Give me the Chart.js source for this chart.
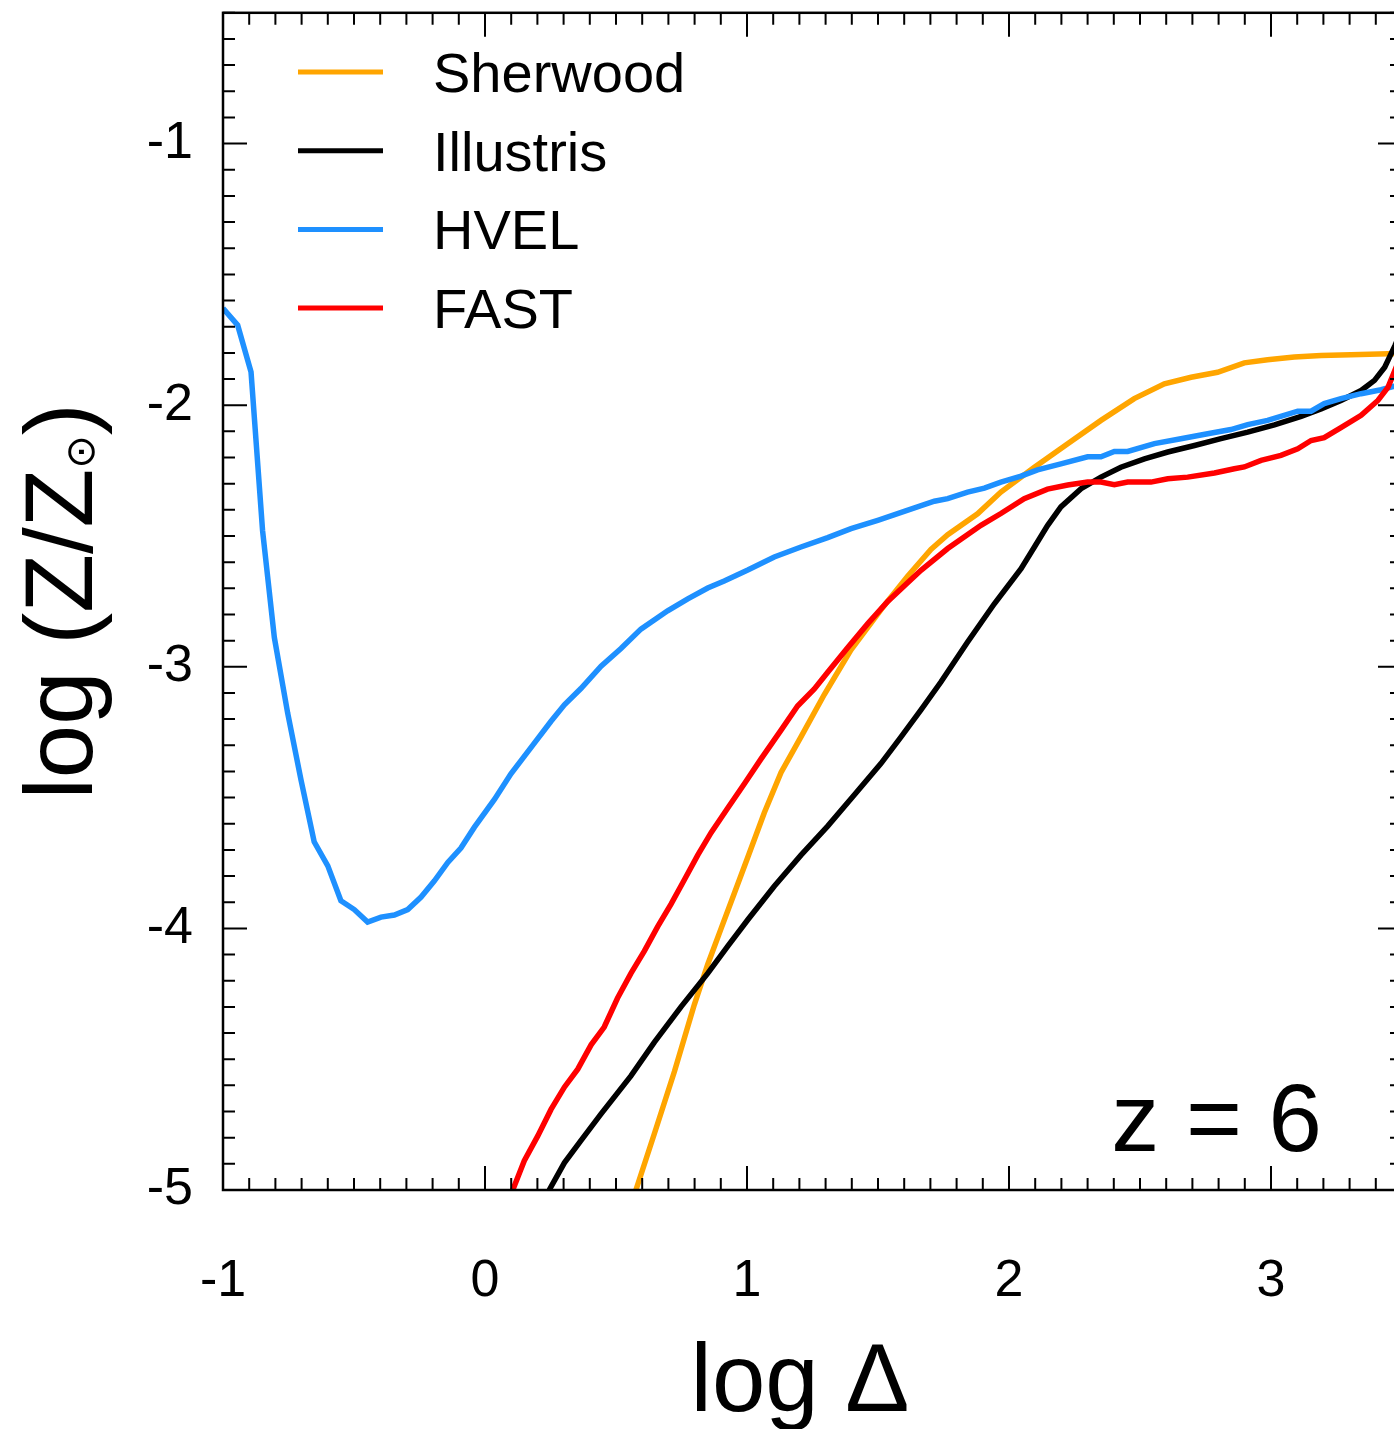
<!DOCTYPE html>
<html>
<head>
<meta charset="utf-8">
<script src="https://cdn.jsdelivr.net/npm/chart.js@4.4.1/dist/chart.umd.min.js"></script>
<style>
  html, body { margin: 0; padding: 0; background: #fff; overflow: hidden; }
  canvas { display: block; }
</style>
</head>
<body>
<canvas id="zChart" width="1420" height="1429"></canvas>
<script>
// log Delta vs log(Z/Zsun), z = 6
const sherwoodX = [0.576, 0.646, 0.723, 0.799, 0.850, 0.901, 0.952, 1.003, 1.066, 1.130, 1.206, 1.295, 1.397, 1.511, 1.613, 1.702, 1.766, 1.880, 1.969, 2.097, 2.224, 2.351, 2.478, 2.593, 2.695, 2.796, 2.898, 2.987, 3.089, 3.191, 3.305, 3.447, 3.5];
const sherwoodY = [-5.0, -4.786, -4.547, -4.291, -4.138, -4.001, -3.865, -3.728, -3.558, -3.404, -3.268, -3.106, -2.935, -2.782, -2.654, -2.551, -2.495, -2.415, -2.332, -2.237, -2.147, -2.058, -1.975, -1.918, -1.893, -1.874, -1.838, -1.826, -1.816, -1.810, -1.807, -1.803, -1.802];

const illustrisX = [0.245, 0.303, 0.366, 0.443, 0.557, 0.646, 0.748, 0.850, 0.926, 1.003, 1.104, 1.206, 1.308, 1.410, 1.511, 1.588, 1.664, 1.740, 1.842, 1.944, 2.046, 2.097, 2.147, 2.198, 2.275, 2.351, 2.427, 2.517, 2.606, 2.708, 2.809, 2.911, 3.013, 3.115, 3.191, 3.267, 3.344, 3.395, 3.434, 3.473, 3.5];
const illustrisY = [-5.0, -4.896, -4.811, -4.709, -4.564, -4.436, -4.300, -4.172, -4.069, -3.967, -3.839, -3.720, -3.609, -3.489, -3.370, -3.268, -3.165, -3.058, -2.905, -2.759, -2.625, -2.542, -2.460, -2.389, -2.319, -2.275, -2.237, -2.205, -2.179, -2.154, -2.128, -2.103, -2.075, -2.043, -2.014, -1.982, -1.944, -1.905, -1.855, -1.772, -1.71];

const hvelX = [-1.0, -0.944, -0.893, -0.849, -0.804, -0.753, -0.702, -0.652, -0.600, -0.550, -0.499, -0.448, -0.397, -0.346, -0.295, -0.244, -0.193, -0.142, -0.092, -0.041, 0.036, 0.099, 0.176, 0.252, 0.303, 0.366, 0.443, 0.519, 0.595, 0.697, 0.774, 0.850, 0.913, 1.003, 1.104, 1.206, 1.308, 1.397, 1.499, 1.600, 1.715, 1.766, 1.842, 1.906, 1.969, 2.046, 2.109, 2.198, 2.300, 2.351, 2.402, 2.453, 2.555, 2.656, 2.758, 2.847, 2.911, 2.987, 3.102, 3.153, 3.203, 3.267, 3.344, 3.420, 3.5];
const hvelY = [-1.63, -1.694, -1.873, -2.479, -2.888, -3.178, -3.434, -3.669, -3.761, -3.894, -3.928, -3.976, -3.957, -3.949, -3.928, -3.880, -3.818, -3.748, -3.693, -3.614, -3.507, -3.409, -3.308, -3.208, -3.145, -3.083, -2.998, -2.930, -2.856, -2.786, -2.740, -2.699, -2.672, -2.630, -2.580, -2.542, -2.506, -2.472, -2.440, -2.406, -2.367, -2.357, -2.332, -2.317, -2.294, -2.271, -2.247, -2.224, -2.197, -2.197, -2.177, -2.177, -2.147, -2.128, -2.109, -2.093, -2.074, -2.058, -2.023, -2.023, -1.994, -1.975, -1.956, -1.941, -1.92];

const fastX = [0.106, 0.150, 0.201, 0.252, 0.303, 0.354, 0.405, 0.455, 0.506, 0.557, 0.608, 0.659, 0.710, 0.761, 0.812, 0.863, 0.926, 0.990, 1.053, 1.130, 1.193, 1.257, 1.308, 1.384, 1.461, 1.537, 1.613, 1.664, 1.766, 1.893, 1.969, 2.058, 2.147, 2.224, 2.300, 2.351, 2.402, 2.453, 2.542, 2.606, 2.682, 2.784, 2.860, 2.898, 2.962, 3.038, 3.102, 3.153, 3.203, 3.267, 3.344, 3.408, 3.447, 3.5];
const fastY = [-5.0, -4.888, -4.794, -4.692, -4.607, -4.538, -4.445, -4.377, -4.266, -4.172, -4.087, -3.993, -3.907, -3.814, -3.720, -3.634, -3.541, -3.447, -3.353, -3.242, -3.150, -3.085, -3.021, -2.927, -2.835, -2.750, -2.679, -2.631, -2.548, -2.459, -2.414, -2.357, -2.321, -2.305, -2.294, -2.294, -2.304, -2.294, -2.294, -2.281, -2.275, -2.259, -2.243, -2.236, -2.211, -2.192, -2.167, -2.135, -2.124, -2.086, -2.039, -1.982, -1.931, -1.80];

const seriesNames = ["Sherwood", "Illustris", "HVEL", "FAST"];
const seriesColors = ["#ffa500", "#000000", "#1e90ff", "#ff0000"];
const xTicks = [-1, 0, 1, 2, 3];
const yTicks = [-5, -4, -3, -2, -1];
const redshiftLabel = "z = 6";

const FONT = "'Liberation Sans', Arial, Helvetica, sans-serif";

function toPoints(xs, ys) {
  return xs.map((x, i) => ({ x: x, y: ys[i] }));
}

const allX = [sherwoodX, illustrisX, hvelX, fastX];
const allY = [sherwoodY, illustrisY, hvelY, fastY];

const datasets = seriesNames.map((name, i) => ({
  label: name,
  data: toPoints(allX[i], allY[i]),
  borderColor: seriesColors[i],
  backgroundColor: seriesColors[i],
  borderWidth: 5.5,
  pointRadius: 0,
  tension: 0,
  fill: false,
  order: seriesNames.length - i   // later series drawn on top
}));

// frame + inward ticks on all four sides
const frameTicks = {
  id: "frameTicks",
  afterDatasetsDraw(chart) {
    const { ctx, chartArea: a, scales } = chart;
    const x = scales.x, y = scales.y;
    ctx.save();
    ctx.strokeStyle = "#000";
    ctx.lineWidth = 2;
    ctx.beginPath();
    for (let i = Math.round(x.min * 10); i <= Math.round(x.max * 10); i++) {
      const px = x.getPixelForValue(i / 10);
      const len = i % 10 === 0 ? 24 : 12;
      ctx.moveTo(px, a.bottom); ctx.lineTo(px, a.bottom - len);
      ctx.moveTo(px, a.top); ctx.lineTo(px, a.top + len);
    }
    for (let i = Math.round(y.min * 10); i <= Math.round(y.max * 10); i++) {
      const py = y.getPixelForValue(i / 10);
      const len = i % 10 === 0 ? 24 : 12;
      ctx.moveTo(a.left, py); ctx.lineTo(a.left + len, py);
      ctx.moveTo(a.right, py); ctx.lineTo(a.right - len, py);
    }
    ctx.stroke();
    ctx.lineWidth = 2.5;
    ctx.strokeRect(a.left, a.top, a.right - a.left, a.bottom - a.top);
    ctx.restore();
  }
};

// legend, redshift label, axis titles
const labelsPlugin = {
  id: "labelsPlugin",
  afterDraw(chart) {
    const { ctx, chartArea: a } = chart;
    ctx.save();
    ctx.fillStyle = "#000";

    // legend
    chart.data.datasets.forEach((ds, i) => {
      const ly = 72 + i * 78.7;
      ctx.strokeStyle = ds.borderColor;
      ctx.lineWidth = 5;
      ctx.beginPath();
      ctx.moveTo(298, ly);
      ctx.lineTo(383, ly);
      ctx.stroke();
      ctx.font = "56px " + FONT;
      ctx.textAlign = "left";
      ctx.textBaseline = "alphabetic";
      ctx.fillText(ds.label, 433, ly + 20);
    });

    // z = 6
    ctx.font = "96px " + FONT;
    ctx.textAlign = "right";
    ctx.fillText(redshiftLabel, 1322, 1151);

    // x title
    ctx.textAlign = "center";
    ctx.fillText("log \u0394", 800, 1411);

    // y title with subscript sun symbol
    const big = "96px " + FONT;
    const small = "40px 'DejaVu Sans', sans-serif";
    ctx.font = big;
    const w1 = ctx.measureText("log (Z/Z").width;
    const w3 = ctx.measureText(")").width;
    ctx.font = small;
    const w2 = ctx.measureText("\u2299").width;
    const total = w1 + w2 + w3;
    ctx.translate(92, (a.top + a.bottom) / 2);
    ctx.rotate(-Math.PI / 2);
    ctx.textAlign = "left";
    let cx = -total / 2;
    ctx.font = big;
    ctx.fillText("log (Z/Z", cx, 0);
    cx += w1;
    ctx.font = small;
    ctx.fillText("\u2299", cx, 2);
    cx += w2;
    ctx.font = big;
    ctx.fillText(")", cx, 0);
    ctx.restore();
  }
};

function noEdgePadding(scale) {
  scale.paddingTop = 0;
  scale.paddingBottom = 0;
  scale.paddingLeft = 0;
  scale.paddingRight = 0;
}

new Chart(document.getElementById("zChart"), {
  type: "line",
  data: { datasets },
  options: {
    responsive: false,
    animation: false,
    devicePixelRatio: 1,
    layout: { padding: { top: 12.8, right: 18, left: 0, bottom: 0 } },
    plugins: {
      legend: { display: false },
      tooltip: { enabled: false }
    },
    scales: {
      x: {
        type: "linear",
        min: -1,
        max: 3.5,
        afterFit(scale) { scale.height = 239; noEdgePadding(scale); },
        afterBuildTicks(scale) { scale.ticks = xTicks.map(v => ({ value: v })); },
        grid: { display: false },
        border: { display: false },
        ticks: {
          font: { family: FONT, size: 52 },
          color: "#000",
          padding: 52,
          maxRotation: 0,
          callback: v => String(v)
        }
      },
      y: {
        type: "linear",
        min: -5,
        max: -0.5,
        afterFit(scale) { scale.width = 223; noEdgePadding(scale); },
        afterBuildTicks(scale) { scale.ticks = yTicks.map(v => ({ value: v })); },
        grid: { display: false },
        border: { display: false },
        ticks: {
          font: { family: FONT, size: 52 },
          color: "#000",
          padding: 22,
          callback: v => String(v)
        }
      }
    }
  },
  plugins: [frameTicks, labelsPlugin]
});
</script>
</body>
</html>
